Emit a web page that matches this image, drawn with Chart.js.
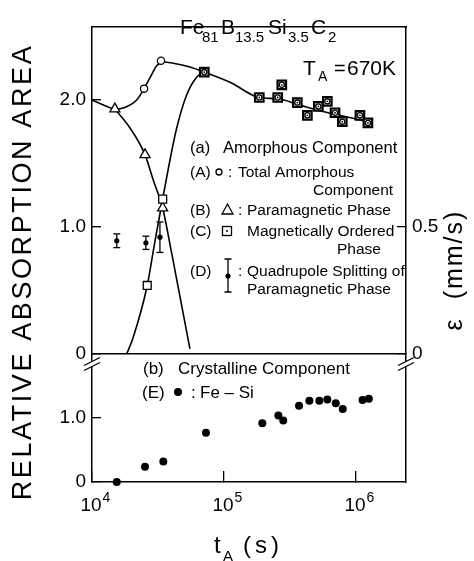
<!DOCTYPE html>
<html><head><meta charset="utf-8">
<script src="https://cdn.jsdelivr.net/npm/chart.js@4.4.1/dist/chart.umd.min.js"></script>
<style>html,body{margin:0;padding:0;background:#fff;}</style>
</head><body>
<canvas id="c" width="474" height="561"></canvas>
<script>
// ---------- data ----------
// x: annealing time t_A (s); upper panel y: relative absorption area; right axis: epsilon (mm/s)
const xTicks = [1e4, 1e5, 1e6];
const xTickExp = ['4', '5', '6'];
const yTopTicks = [0, 1, 2];
const yBotTicks = [0, 1];
const epsTicks = [0, 0.5];

// (A) total amorphous component (open circles; from 7e4 on they coincide with (C))
const totalT = [2.48e4, 3.33e4, 7.09e4, 1.85e5, 2.55e5, 2.74e5, 3.59e5, 4.28e5, 5.18e5, 6.06e5, 6.93e5, 7.87e5, 1.07e6, 1.23e6];
const totalV = [2.09, 2.31, 2.22, 2.02, 2.02, 2.12, 1.98, 1.88, 1.95, 1.99, 1.90, 1.83, 1.88, 1.82];
// (B) paramagnetic phase (open triangles)
const paraT = [1.49e4, 2.52e4, 3.43e4];
const paraV = [1.93, 1.57, 1.15];
// (C) magnetically ordered phase (open squares)
const magT = [2.62e4, 3.43e4, 7.09e4, 1.85e5, 2.55e5, 2.74e5, 3.59e5, 4.28e5, 5.18e5, 6.06e5, 6.93e5, 7.87e5, 1.07e6, 1.23e6];
const magV = [0.54, 1.22, 2.22, 2.02, 2.02, 2.12, 1.98, 1.88, 1.95, 1.99, 1.90, 1.83, 1.88, 1.82];
// (D) quadrupole splitting of paramagnetic phase (mm/s) with error
const quadT = [1.54e4, 2.56e4, 3.27e4];
const quadV = [0.446, 0.438, 0.46];
const quadErr = [0.027, 0.026, 0.06];
// (E) crystalline Fe-Si (filled circles, lower panel)
const feSiT = [1.54e4, 2.52e4, 3.47e4, 7.3e4, 1.95e5, 2.58e5, 2.81e5, 3.7e5, 4.43e5, 5.27e5, 6.06e5, 7.02e5, 7.93e5, 1.12e6, 1.25e6];
const feSiV = [0.00, 0.24, 0.32, 0.77, 0.92, 1.04, 0.96, 1.19, 1.27, 1.27, 1.29, 1.23, 1.14, 1.28, 1.30];
// hand-drawn guide curves
const curveAT = [1.0e4, 1.23e4, 1.49e4, 1.75e4, 2.18e4, 2.48e4, 2.83e4, 3.09e4, 3.47e4, 4.13e4, 5.52e4, 7.09e4, 1.11e5, 1.85e5, 2.55e5, 3.77e5, 5.63e5, 8.26e5, 1.23e6];
const curveAV = [2.00, 1.96, 1.93, 1.94, 2.00, 2.09, 2.20, 2.27, 2.30, 2.29, 2.26, 2.22, 2.14, 2.02, 2.01, 1.96, 1.91, 1.87, 1.83];
const curveBT = [1.49e4, 1.94e4, 2.52e4, 2.91e4, 3.43e4, 4.02e4, 5.52e4];
const curveBV = [1.93, 1.78, 1.57, 1.37, 1.15, 0.79, 0.04];
const curveCT = [1.83e4, 2.05e4, 2.62e4, 3.0e4, 3.43e4, 3.9e4, 4.38e4, 5.21e4, 6.2e4, 7.09e4];
const curveCV = [0.00, 0.13, 0.54, 0.89, 1.22, 1.53, 1.78, 2.04, 2.18, 2.22];

// ---------- chart ----------
const FONT = '"Liberation Sans", Arial, sans-serif';
const toPts = (t, v) => t.map((x, i) => ({x, y: v[i]}));
const K = '#000';

const errorBarSets = quadT.map((t, i) => ({
  data: [{x: t, y: quadV[i] - quadErr[i]}, {x: t, y: quadV[i] + quadErr[i]}],
  yAxisID: 'yR', showLine: true, borderColor: K, borderWidth: 1.3,
  pointStyle: 'line', pointRadius: 3.5, pointBorderWidth: 1.3, pointBorderColor: K, clip: false
}));

const lineStyle = {showLine: true, pointRadius: 0, borderColor: K, borderWidth: 1.6,
  cubicInterpolationMode: 'monotone', yAxisID: 'yTop', clip: false};

const fmt = v => v === 0 ? '0' : v.toFixed(1);
const setTicks = arr => s => { s.ticks = arr.map(v => ({value: v})); };

const decor = {
  id: 'decor',
  beforeDraw(chart) {
    const c = chart.ctx; c.save(); c.fillStyle = '#fff'; c.fillRect(0, 0, chart.width, chart.height); c.restore();
  },
  afterDraw(chart) {
    const c = chart.ctx, a = chart.chartArea, xs = chart.scales.x;
    c.save();
    c.fillStyle = K; c.strokeStyle = K;
    const T = (s, x, y, size, align) => { c.font = size + 'px ' + FONT; c.textAlign = align || 'left'; c.textBaseline = 'alphabetic'; c.fillText(s, x, y); };

    // x tick labels 10^n
    xTicks.forEach((v, i) => {
      const px = xs.getPixelForValue(v);
      c.font = '19px ' + FONT; const w = c.measureText('10').width;
      T('10', px - w / 2 - 1, 511, 19);
      T(xTickExp[i], px + w / 2, 502, 14);
    });
    // axis titles
    c.save(); c.translate(24, 272); c.rotate(-Math.PI / 2);
    c.font = '27px ' + FONT; c.textAlign = 'center'; c.textBaseline = 'middle';
    if ('letterSpacing' in c) c.letterSpacing = '2.6px';
    c.fillText('RELATIVE ABSORPTION AREA', 0, 0); c.restore();
    c.save(); c.translate(455, 270); c.rotate(-Math.PI / 2);
    c.font = '25px ' + FONT; c.textAlign = 'center'; c.textBaseline = 'middle';
    if ('letterSpacing' in c) c.letterSpacing = '2px';
    c.fillText('\u03B5  (mm/s)', 0, 0); c.restore();
    T('t', 214, 553, 24); T('A', 223, 561, 15);
    c.save(); if ('letterSpacing' in c) c.letterSpacing = '4px'; T('(s)', 243, 553, 24); c.restore();

    // composition title
    T('Fe', 180, 34, 21); T('81', 202, 42, 15); T('B', 221, 34, 21); T('13.5', 235, 42, 15);
    T('Si', 268, 34, 21); T('3.5', 288, 42, 15); T('C', 311, 34, 21); T('2', 328, 42, 15);
    T('T', 303, 75, 21); T('A', 318, 81, 14); T('=', 334, 75, 20); T('670K', 347, 75, 21);

    // legend (a)
    T('(a)', 190, 153, 16.5); T('Amorphous Component', 223, 153, 16.5);
    T('(A)', 190, 177, 15.5); T(':', 228, 177, 15.5); T('Total Amorphous', 238, 177, 15.5);
    T('Component', 313, 195, 15.5);
    T('(B)', 190, 215, 15.5); T(':', 238, 215, 15.5); T('Paramagnetic Phase', 247, 215, 15.5);
    T('(C)', 190, 236, 15.5); T('Magnetically Ordered', 247, 236, 15.5);
    T('Phase', 337, 254, 15.5);
    T('(D)', 190, 276, 15.5); T(':', 238, 276, 15.5); T('Quadrupole Splitting of', 247, 276, 15.5);
    T('Paramagnetic Phase', 247, 294, 15.5);
    // legend (b)
    T('(b)', 143, 374, 17); T('Crystalline Component', 178, 374, 17);
    T('(E)', 142, 398, 17); T(':', 191, 398, 17); T('Fe \u2013 Si', 200, 398, 17);

    // legend symbols
    c.lineWidth = 1.3;
    c.beginPath(); c.arc(219, 172, 3, 0, 2 * Math.PI); c.stroke();
    c.beginPath(); c.moveTo(227.5, 204); c.lineTo(233, 214); c.lineTo(222, 214); c.closePath(); c.stroke();
    c.strokeRect(222.5, 226.5, 9, 9); c.beginPath(); c.arc(227, 231, 1, 0, 2 * Math.PI); c.fill();
    c.beginPath(); c.moveTo(228, 259); c.lineTo(228, 292); c.moveTo(224.5, 259); c.lineTo(231.5, 259);
    c.moveTo(224.5, 292); c.lineTo(231.5, 292); c.stroke();
    c.beginPath(); c.arc(228, 276, 2.6, 0, 2 * Math.PI); c.fill();
    c.beginPath(); c.arc(178, 392, 4, 0, 2 * Math.PI); c.fill();

    // axis break marks
    const brk = (x, y) => {
      c.fillStyle = '#fff'; c.fillRect(x - 2, y - 2.5, 4, 5);
      c.lineWidth = 1.3; c.strokeStyle = K;
      [-2.5, 2.5].forEach(d => { c.beginPath(); c.moveTo(x - 8, y + d + 4); c.lineTo(x + 8, y + d - 4); c.stroke(); });
    };
    brk(a.left, 364); brk(a.right, 364);
    c.restore();
  }
};

const axisBorder = {display: true, color: K, width: 1.5};
const inGrid = {display: true, drawOnChartArea: false, drawTicks: true, tickLength: -9, color: K, tickColor: K, lineWidth: 1.3};
const tickFont = {family: FONT, size: 19};

new Chart(document.getElementById('c'), {
  type: 'scatter',
  data: {
    datasets: [
      {data: toPts(feSiT, feSiV), yAxisID: 'yBot', pointStyle: 'circle', pointRadius: 4, backgroundColor: K, borderColor: K, borderWidth: 0, clip: false},
      {data: toPts(totalT, totalV), yAxisID: 'yTop', pointRadius: c => c.dataIndex >= 2 ? 0.9 : 0, backgroundColor: K, borderColor: K, borderWidth: 0, clip: false},
      {data: toPts(totalT, totalV), yAxisID: 'yTop', pointStyle: 'circle', pointRadius: c => c.dataIndex >= 2 ? 2.6 : 3.6, backgroundColor: '#fff', borderColor: K, borderWidth: 1.3, clip: false},
      {data: toPts(magT, magV), yAxisID: 'yTop', pointStyle: 'rect', pointRadius: c => c.dataIndex >= 2 ? 6 : 5.6, backgroundColor: '#fff', borderColor: K, borderWidth: c => c.dataIndex >= 2 ? 2.2 : 1.3, clip: false},
      {data: toPts(paraT, paraV), yAxisID: 'yTop', pointStyle: 'triangle', pointRadius: 5.8, backgroundColor: '#fff', borderColor: K, borderWidth: 1.3, clip: false},
      {data: toPts(quadT, quadV), yAxisID: 'yR', pointStyle: 'circle', pointRadius: 2.6, backgroundColor: K, borderColor: K, borderWidth: 0, clip: false},
      ...errorBarSets,
      Object.assign({data: toPts(curveAT, curveAV)}, lineStyle),
      Object.assign({data: toPts(curveBT, curveBV)}, lineStyle),
      Object.assign({data: toPts(curveCT, curveCV)}, lineStyle)
    ]
  },
  options: {
    responsive: false, animation: false, devicePixelRatio: 1, events: [],
    layout: {padding: 0},
    plugins: {legend: {display: false}, tooltip: {enabled: false}},
    scales: {
      x: {type: 'logarithmic', position: 'bottom', min: 1e4, max: 2.39e6,
        afterBuildTicks: setTicks(xTicks), afterFit: s => { s.height = 79; },
        ticks: {display: false}, grid: Object.assign({}, inGrid, {tickLength: -11}), border: axisBorder},
      xTop: {type: 'logarithmic', position: 'top', min: 1e4, max: 2.39e6,
        afterFit: s => { s.height = 12; }, ticks: {display: false}, grid: {display: false}, border: axisBorder},
      yTop: {type: 'linear', position: 'left', stack: 'L', stackWeight: 338, weight: 1, min: 0, max: 2.58,
        afterBuildTicks: setTicks(yTopTicks), afterFit: s => { s.width = 92; },
        ticks: {callback: fmt, padding: 15, color: K, font: tickFont},
        grid: Object.assign({}, inGrid, {drawOnChartArea: true, lineWidth: 1.4,
          color: c => (c.tick && c.tick.value === 0) ? K : 'rgba(0,0,0,0)'}),
        border: axisBorder},
      yBot: {type: 'linear', position: 'left', stack: 'L', stackWeight: 132, weight: 0, min: 0, max: 2.0,
        afterBuildTicks: setTicks(yBotTicks), afterFit: s => { s.width = 92; },
        ticks: {callback: fmt, padding: 15, color: K, font: tickFont}, grid: inGrid, border: axisBorder},
      yR: {type: 'linear', position: 'right', stack: 'R', stackWeight: 338, weight: 0, min: 0, max: 1.29,
        afterBuildTicks: setTicks(epsTicks), afterFit: s => { s.width = 68; },
        ticks: {callback: fmt, padding: 15, color: K, font: tickFont}, grid: inGrid, border: axisBorder},
      yR2: {type: 'linear', position: 'right', stack: 'R', stackWeight: 132, weight: 1, min: 0, max: 1,
        afterFit: s => { s.width = 68; }, ticks: {display: false}, grid: {display: false}, border: axisBorder}
    }
  },
  plugins: [decor]
});
</script>
</body></html>
